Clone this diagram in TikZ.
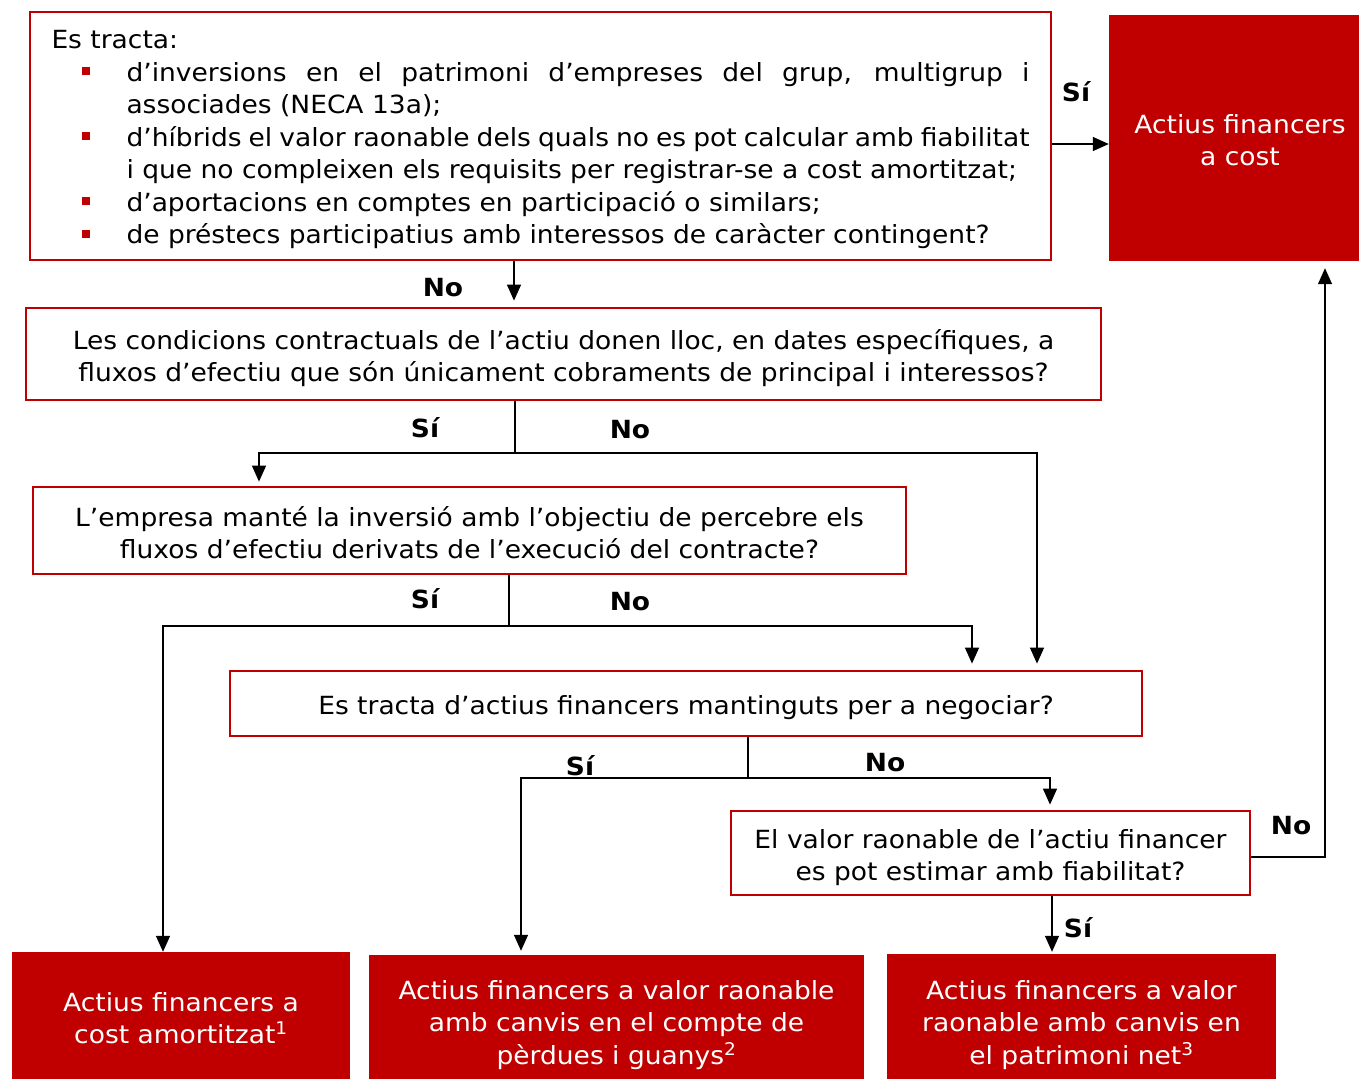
\documentclass[tikz,border=0pt]{standalone}
\usepackage{fontspec}
\setmainfont{DejaVu Sans}[FakeStretch=1.06]
\usetikzlibrary{arrows.meta}
\definecolor{dred}{RGB}{192,0,0}
\newcommand{\redbul}{\textcolor{dred}{\rule[6pt]{8pt}{8pt}}}
\begin{document}
\begin{tikzpicture}[x=1pt,y=-1pt,
  every node/.style={font=\fontsize{25}{32.5}\selectfont, inner sep=0pt},
  qbox/.style={draw=dred, line width=2.8pt, fill=white},
  rbox/.style={fill=dred},
  txt/.style={align=center},
  wtxt/.style={text=white, align=center},
  lab/.style={font=\fontsize{25}{32.5}\selectfont\bfseries},
  arr/.style={line width=1.4pt, -{Triangle[length=16pt,width=14pt]}},
  ln/.style={line width=1.4pt}]
\useasboundingbox (0,0) rectangle (1359,1079);

% boxes
\node[qbox, minimum width=1021pt, minimum height=248pt] (box1) at (540.5,136) {};
\node[text width=978pt, align=none] (box1t) at (540.5,139.5)
  {\hyphenpenalty=10000 \exhyphenpenalty=10000 \parindent=0pt
   Es tracta:\par
   \leftskip=75pt
   \noindent\llap{\redbul\hspace{37pt}}d’inversions en el patrimoni d’empreses del grup, multigrup i\linebreak associades (NECA 13a);\par
   \noindent\llap{\redbul\hspace{37pt}}d’híbrids el valor raonable dels quals no es pot calcular amb fiabilitat\linebreak i que no compleixen els requisits per registrar-se a cost amortitzat;\par
   \noindent\llap{\redbul\hspace{37pt}}d’aportacions en comptes en participació o similars;\par
   \noindent\llap{\redbul\hspace{37pt}}de préstecs participatius amb interessos de caràcter contingent?\par};

\node[rbox, minimum width=250pt, minimum height=246pt] (cost) at (1234,138) {};
\node[wtxt] (costt) at (1240,140) {Actius financers\\a cost};

\node[qbox, minimum width=1075pt, minimum height=92pt] (box2) at (563.5,354) {};
\node[txt] (box2t) at (563.5,358)
  {Les condicions contractuals de l’actiu donen lloc, en dates específiques, a\\fluxos d’efectiu que són únicament cobraments de principal i interessos?};
\node[qbox, minimum width=873pt, minimum height=87pt] (box3) at (469.5,530.5) {};
\node[txt] (box3t) at (469.5,532.5)
  {L’empresa manté la inversió amb l’objectiu de percebre els\\fluxos d’efectiu derivats de l’execució del contracte?};
\node[qbox, minimum width=912pt, minimum height=65pt] (box4) at (686,703.5) {};
\node[txt] (box4t) at (686,707.5)
  {Es tracta d’actius financers mantinguts per a negociar?};
\node[qbox, minimum width=519pt, minimum height=84pt] (box5) at (990.5,853) {};
\node[txt] (box5t) at (990.5,857.5)
  {El valor raonable de l’actiu financer\\es pot estimar amb fiabilitat?};

\node[rbox, minimum width=338pt, minimum height=127pt] (b1) at (181,1015.5) {};
\node[wtxt] (b1t) at (181,1018) {Actius financers a\\cost amortitzat\textsuperscript{1}};
\node[rbox, minimum width=495pt, minimum height=124pt] (b2) at (616.5,1017) {};
\node[wtxt] (b2t) at (616.5,1025) {Actius financers a valor raonable\\amb canvis en el compte de\\pèrdues i guanys\textsuperscript{2}};
\node[rbox, minimum width=389pt, minimum height=125pt] (b3) at (1081.5,1016.5) {};
\node[wtxt] (b3t) at (1081.5,1025) {Actius financers a valor\\raonable amb canvis en\\el patrimoni net\textsuperscript{3}};

% junction coordinates
\coordinate (j1a) at (514,260);
\coordinate (y144) at (0,144);
\coordinate (j2) at (515,453);
\coordinate (j2l) at (259,453);
\coordinate (j2r) at (1037,453);
\coordinate (j3) at (509,626);
\coordinate (j3l) at (163,626);
\coordinate (j3r) at (972,626);
\coordinate (j4) at (748,778);
\coordinate (j4l) at (521,778);
\coordinate (j4r) at (1050,778);
\coordinate (j5) at (1325,857);
\coordinate (x1052) at (1052,0);

% connectors
\draw[arr] (box1.east |- y144) -- (cost.west |- y144);
\draw[arr, shorten >=6pt] (box1.south -| j1a) -- (box2.north -| j1a);
\draw[ln] (box2.south -| j2) -- (j2);
\draw[arr, shorten >=4pt] (j2) -- (j2l) -- (box3.north -| j2l);
\draw[arr, shorten >=6pt] (j2) -- (j2r) -- (box4.north -| j2r);
\draw[ln] (box3.south -| j3) -- (j3);
\draw[arr] (j3) -- (j3l) -- (b1.north -| j3l);
\draw[arr, shorten >=6pt] (j3) -- (j3r) -- (box4.north -| j3r);
\draw[ln] (box4.south -| j4) -- (j4);
\draw[arr, shorten >=4pt] (j4) -- (j4l) -- (b2.north -| j4l);
\draw[arr, shorten >=5pt] (j4) -- (j4r) -- (box5.north -| j4r);
\draw[arr, shorten >=7pt] (box5.east |- j5) -- (j5) -- (cost.south -| j5);
\draw[arr, shorten >=2pt] (box5.south -| x1052) -- (b3.north -| x1052);

% labels
\node[lab] (l1) at (1076,92) {Sí};
\node[lab] (l2) at (443,288) {No};
\node[lab] (l3) at (425,428) {Sí};
\node[lab] (l4) at (630,430) {No};
\node[lab] (l5) at (425,599) {Sí};
\node[lab] (l6) at (630,602) {No};
\node[lab] (l7) at (580,766) {Sí};
\node[lab] (l8) at (885,763) {No};
\node[lab] (l9) at (1291,826) {No};
\node[lab] (l10) at (1078,928) {Sí};
\end{tikzpicture}
\end{document}
